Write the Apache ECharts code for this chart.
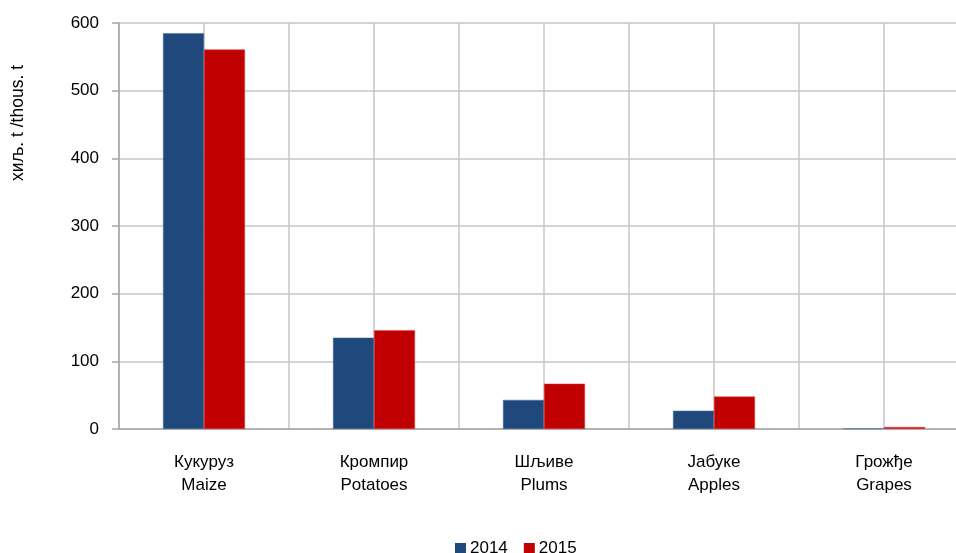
<!DOCTYPE html>
<html>
<head>
<meta charset="utf-8">
<script src="https://cdn.jsdelivr.net/npm/echarts@6/dist/echarts.min.js"></script>
<style>html,body{margin:0;padding:0;background:#fff}#c{width:956px;height:553px}</style>
</head>
<body>
<div id="c"></div>
<script>
const categories = ['Кукуруз\nMaize', 'Кромпир\nPotatoes', 'Шљиве\nPlums', 'Јабуке\nApples', 'Грожђе\nGrapes'];
const seriesNames = ['2014', '2015'];
const values2014 = [585, 135, 43, 27, 0.8];
const values2015 = [561, 146, 67, 48, 3];
const yTicks = [0, 100, 200, 300, 400, 500, 600];
const yAxisTitle = 'хиљ. t /thous. t';

const font = '"Liberation Sans", Arial, sans-serif';
const chart = echarts.init(document.getElementById('c'));
chart.setOption({
  animation: false,
  backgroundColor: '#fff',
  textStyle: { fontFamily: font },
  grid: { left: 119, top: 23, width: 850, height: 406, containLabel: false, outerBoundsMode: 'none' },
  legend: {
    data: seriesNames,
    left: 450, top: 535,
    itemWidth: 11, itemHeight: 11, itemGap: 16,
    icon: 'rect',
    itemStyle: { borderWidth: 0 },
    textStyle: { fontSize: 17, color: '#000', fontFamily: font, padding: [0, 0, 0, -1] }
  },
  graphic: [{
    type: 'text', left: 9, top: 65, rotation: Math.PI / 2,
    style: { text: yAxisTitle, fontSize: 17.5, fill: '#000', fontFamily: font }
  }],
  xAxis: [{
    type: 'category', data: categories,
    axisLine: { lineStyle: { color: '#a6a6a6', width: 1.5 } },
    axisTick: { show: false },
    splitLine: { show: false },
    axisLabel: { color: '#000', fontSize: 17, lineHeight: 23, margin: 22, fontFamily: font }
  }, {
    type: 'value', min: 0, max: 10, interval: 1, position: 'top',
    axisLine: { show: false }, axisTick: { show: false }, axisLabel: { show: false },
    splitLine: { show: true, lineStyle: { color: '#c6c6c6', width: 1.5 } }
  }],
  yAxis: {
    type: 'value', min: yTicks[0], max: yTicks[yTicks.length - 1], interval: 100,
    axisLine: { show: true, lineStyle: { color: '#a6a6a6', width: 1.5 } },
    axisTick: { show: true, length: 7, lineStyle: { color: '#a6a6a6', width: 1.5 } },
    axisLabel: { color: '#000', fontSize: 17, margin: 20, fontFamily: font },
    splitLine: { show: true, lineStyle: { color: '#c6c6c6', width: 1.5 } }
  },
  series: [{
    name: seriesNames[0], type: 'bar', data: values2014, barWidth: 41, barGap: '0%',
    itemStyle: { color: '#1f497d', borderColor: '#4f6f98', borderWidth: 0.5 }
  }, {
    name: seriesNames[1], type: 'bar', data: values2015, barWidth: 41, barGap: '0%',
    itemStyle: { color: '#c00000', borderColor: '#e04545', borderWidth: 0.5 }
  }]
});
</script>
</body>
</html>
